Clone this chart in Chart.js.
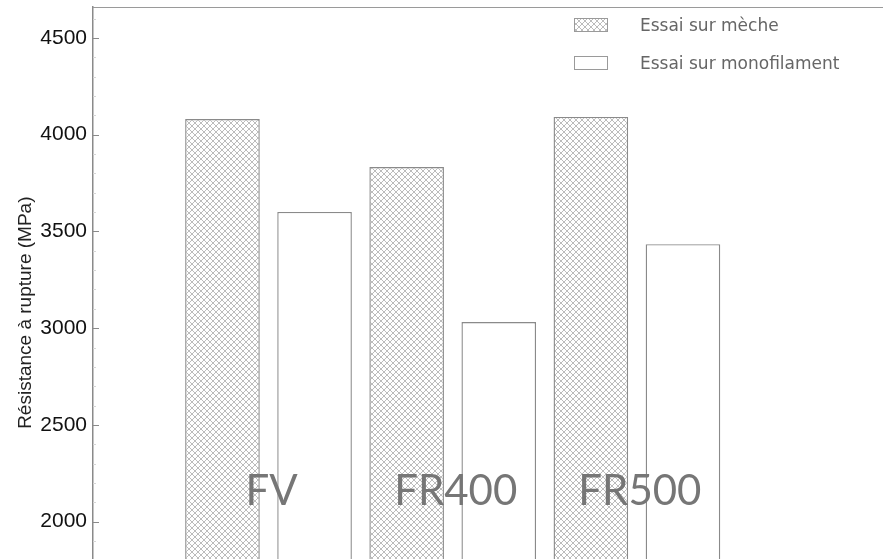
<!DOCTYPE html>
<html lang="fr">
<head>
<meta charset="utf-8">
<title>Résistance à rupture</title>
<script src="https://cdn.jsdelivr.net/npm/chart.js@4/dist/chart.umd.min.js"></script>
<style>
  html, body { margin: 0; padding: 0; background: #fff; overflow: hidden; }
  #wrap { width: 883px; height: 559px; overflow: hidden; }
  canvas { display: block; }
</style>
</head>
<body>
<div id="wrap"><canvas id="c" width="883" height="640"></canvas></div>
<script>
// Fibre types and measured tensile strength (MPa)
const categories = ['FV', 'FR400', 'FR500'];
const seriesLabels = ['Essai sur mèche', 'Essai sur monofilament'];
const mecheValues = [4081, 3833, 4092];
const monoValues = [3601, 3032, 3434];
const yTicks = [2000, 2500, 3000, 3500, 4000, 4500];
const yMinorStep = 100;
const labelLevel = 2086;   // baseline of the in-plot category names

// Cross-hatch fill for the strand tests
function makeHatch() {
  const s = 6;
  const p = document.createElement('canvas');
  p.width = s; p.height = s;
  const g = p.getContext('2d');
  g.fillStyle = '#ffffff';
  g.fillRect(0, 0, s, s);
  g.strokeStyle = '#bcbcbc';
  g.lineWidth = 1;
  g.beginPath();
  g.moveTo(-1, -1); g.lineTo(s + 1, s + 1);
  g.moveTo(s + 1, -1); g.lineTo(-1, s + 1);
  g.stroke();
  return g.createPattern(p, 'repeat');
}
const hatch = makeHatch();

const fillStyles = [hatch, '#ffffff'];
const edgeColor = '#8a8a8a';

const framePlugin = {
  id: 'frame',
  afterDatasetsDraw(chart) {
    const ctx = chart.ctx;
    const y = chart.scales.y;
    const x = chart.scales.x;
    ctx.save();
    // category names written inside the plot
    ctx.font = '400 42px Lato, "DejaVu Sans", sans-serif';
    ctx.fillStyle = '#767676';
    ctx.textAlign = 'center';
    ctx.textBaseline = 'alphabetic';
    categories.forEach((name, i) => {
      ctx.fillText(name, x.getPixelForValue(i + 1) + 3, y.getPixelForValue(labelLevel));
    });
    ctx.restore();
  },
  afterDraw(chart) {
    const ctx = chart.ctx;
    const y = chart.scales.y;
    const area = chart.chartArea;
    ctx.save();
    // top frame line
    ctx.strokeStyle = '#9a9a9a';
    ctx.lineWidth = 1.2;
    ctx.beginPath();
    ctx.moveTo(area.left, area.top + 0.5);
    ctx.lineTo(area.right, area.top + 0.5);
    ctx.stroke();
    // minor ticks pointing inward
    ctx.strokeStyle = '#d6d6d6';
    ctx.lineWidth = 1;
    ctx.beginPath();
    for (let v = Math.ceil(y.min / yMinorStep) * yMinorStep; v <= y.max; v += yMinorStep) {
      const py = Math.round(y.getPixelForValue(v)) + 0.5;
      ctx.moveTo(area.left, py);
      ctx.lineTo(area.left + 3, py);
    }
    ctx.stroke();
    // major ticks pointing inward
    ctx.strokeStyle = '#8a8a8a';
    ctx.lineWidth = 1.2;
    ctx.beginPath();
    y.ticks.forEach(t => {
      const py = Math.round(y.getPixelForValue(t.value)) + 0.5;
      ctx.moveTo(area.left, py);
      ctx.lineTo(area.left + 6, py);
    });
    ctx.stroke();

    // legend in the upper right corner
    const boxX = 574, boxW = 33, boxH = 13, textX = 640;
    const rows = [18, 56];
    ctx.font = '17px "DejaVu Sans", sans-serif';
    ctx.textAlign = 'left';
    ctx.textBaseline = 'middle';
    chart.data.datasets.forEach((ds, i) => {
      const by = rows[i];
      ctx.fillStyle = ds.backgroundColor;
      ctx.fillRect(boxX, by, boxW, boxH);
      ctx.strokeStyle = '#9a9a9a';
      ctx.lineWidth = 1;
      ctx.strokeRect(boxX + 0.5, by + 0.5, boxW, boxH);
      ctx.fillStyle = '#666666';
      ctx.fillText(ds.label, textX, by + boxH / 2 + 2.5);
    });
    ctx.restore();
  }
};

new Chart(document.getElementById('c'), {
  type: 'bar',
  data: {
    datasets: [
      {
        label: seriesLabels[0],
        data: mecheValues.map((v, i) => ({ x: i + 1, y: v })),
        backgroundColor: fillStyles[0],
        borderColor: edgeColor,
        borderWidth: 1.4
      },
      {
        label: seriesLabels[1],
        data: monoValues.map((v, i) => ({ x: i + 1, y: v })),
        backgroundColor: fillStyles[1],
        borderColor: edgeColor,
        borderWidth: 1.4
      }
    ]
  },
  options: {
    responsive: false,
    animation: false,
    layout: { padding: { top: 7, right: 0, bottom: 21.6, left: 0 } },
    categoryPercentage: 1,
    barPercentage: 0.81,
    plugins: {
      legend: { display: false },
      tooltip: { enabled: false }
    },
    scales: {
      x: {
        type: 'linear',
        display: false,
        offset: false,
        min: 0.0472,
        max: 4.336,
        afterBuildTicks: (scale) => {
          scale.ticks = categories.map((_, i) => ({ value: i + 1 }));
        }
      },
      y: {
        type: 'linear',
        min: 1500,
        max: 4660,
        afterBuildTicks: (scale) => {
          scale.ticks = yTicks.map(v => ({ value: v }));
        },
        afterFit: (scale) => {
          scale.width = 93;
          scale.paddingTop = 0;
          scale.paddingBottom = 0;
        },
        grid: { display: true, drawOnChartArea: false, drawTicks: false },
        border: { display: true, color: '#8a8a8a', width: 1.5 },
        ticks: {
          padding: 6,
          color: '#111111',
          callback: (v) => String(v),
          font: { family: '"Liberation Sans", Arial, sans-serif', size: 21 }
        },
        title: {
          display: true,
          text: 'Résistance à rupture (MPa)',
          color: '#222222',
          padding: { top: 14, bottom: 0 },
          font: { family: '"Liberation Sans", Arial, sans-serif', size: 19 }
        }
      }
    }
  },
  plugins: [framePlugin]
});
</script>
</body>
</html>
